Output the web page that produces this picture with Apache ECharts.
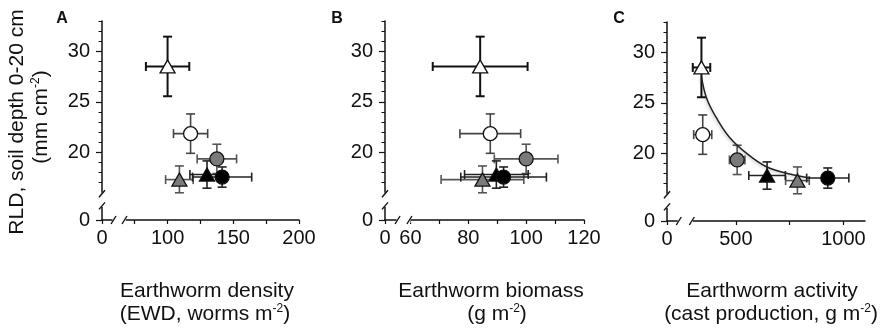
<!DOCTYPE html>
<html>
<head>
<meta charset="utf-8">
<script src="https://cdn.jsdelivr.net/npm/echarts@6/dist/echarts.min.js"></script>
<style>
  html, body { margin: 0; padding: 0; background: #fff; }
  #chart { width: 892px; height: 336px; }
</style>
</head>
<body>
<div id="chart"></div>
<script>
// treatments, same order in every panel:
// white triangle, white circle, grey circle, grey triangle, black triangle, black circle
var rld = [28.5, 21.85, 19.35, 17.3, 17.8, 17.55];      // RLD mm cm-2
var rldErr = [2.95, 1.95, 1.45, 1.35, 1.35, 1.0];

// A: earthworm density
var density = [100, 117.5, 137.5, 109, 130, 141.5];
var densityErr = [16.5, 13, 15, 10.5, 13, 22.5];
// B: earthworm biomass
var biomass = [84.1, 87.6, 100, 84.9, 89.7, 92.2];
var biomassErr = [16.4, 10.5, 11, 14.3, 11, 14.8];
// C: cast production
var cast = [340, 346, 506, 786, 645, 927];
var castErr = [41, 42, 36, 55, 85, 98];
// fitted curve in C
var curveX = [340, 365, 410, 470, 550, 640, 750, 845];
var curveY = [27.6, 25.4, 23.5, 21.6, 20.0, 18.7, 17.95, 17.55];

// ticks and labels
var yTicks = [0, 17, 18, 19, 21, 22, 23, 24, 26, 27, 28, 29, 31, 32, 33];
var yMajor = [0, 20, 25, 30];
var xTicksA = [0, 75, 100, 125, 150, 175, 200], xLabelsA = [0, 100, 150, 200];
var xTicksB = [0, 60, 70, 80, 90, 100, 110, 120], xLabelsB = [0, 60, 80, 100, 120];
var xTicksC = [0, 500, 750, 1000], xLabelsC = [0, 500, 1000];

// styles
var symbols = ['triangle', 'circle', 'circle', 'triangle', 'triangle', 'circle'];
var fills = ['#fff', '#fff', '#7a7a7a', '#7a7a7a', '#000', '#000'];
var errColors = ['#111', '#444', '#555', '#555', '#222', '#222'];

var FONT = "'Liberation Sans', Arial, Helvetica, sans-serif";
var INK = '#111';

var chart = echarts.init(document.getElementById('chart'));

// break gaps are in data units here
var panels = [
  { grid: { left: 102, top: 21, width: 197, height: 199 }, xmax: 200, xbrk: { start: 8, end: 68, gap: 9.9 },
    ticks: xTicksA, labels: xLabelsA, xs: density, xe: densityErr },
  { grid: { left: 385, top: 21, width: 199, height: 199 }, xmax: 120, xbrk: { start: 4, end: 60, gap: 4.8 },
    ticks: xTicksB, labels: xLabelsB, xs: biomass, xe: biomassErr },
  { grid: { left: 667, top: 22, width: 198, height: 199 }, xmax: 1100, xbrk: { start: 50, end: 300, gap: 70 },
    ticks: xTicksC, labels: xLabelsC, xs: cast, xe: castErr }
];
var yBrk = { start: 1.3, end: 16, gap: 1.4 };

var grids = [], xAxes = [], yAxes = [], series = [];
function plain(v) { return String(v); }

panels.forEach(function (p, k) {
  grids.push(p.grid);
  xAxes.push({
    gridIndex: k, type: 'value', min: 0, max: p.xmax,
    breaks: [p.xbrk], breakArea: { show: false },
    axisLine: { show: true, onZero: false, lineStyle: { color: INK, width: 1.5 } },
    axisTick: { show: true, length: 4, customValues: p.ticks, lineStyle: { color: INK, width: 1.2 } },
    axisLabel: { customValues: p.labels, formatter: plain, fontSize: 20, color: INK, fontFamily: FONT, margin: 8 },
    splitLine: { show: false }
  });
  // minor ticks + labels
  yAxes.push({
    gridIndex: k, type: 'value', min: 0, max: 33, position: 'left',
    breaks: [yBrk], breakArea: { show: false },
    axisLine: { show: true, onZero: false, lineStyle: { color: INK, width: 1.5 } },
    axisTick: { show: true, length: 3.5, customValues: yTicks, lineStyle: { color: INK, width: 1 } },
    axisLabel: { customValues: yMajor, formatter: plain, fontSize: 20, color: INK, fontFamily: FONT, margin: 12 },
    splitLine: { show: false }
  });
  // major ticks
  yAxes.push({
    gridIndex: k, type: 'value', min: 0, max: 33, position: 'left', offset: 0,
    breaks: [yBrk], breakArea: { show: false },
    axisLine: { show: false },
    axisTick: { show: true, length: 6, customValues: yMajor, lineStyle: { color: INK, width: 1.2 } },
    axisLabel: { show: false },
    splitLine: { show: false }
  });

  var errData = p.xs.map(function (x, i) { return [x, rld[i], p.xe[i], rldErr[i]]; });
  series.push({
    type: 'custom', xAxisIndex: k, yAxisIndex: 2 * k, z: 2,
    encode: { x: 0, y: 1 },
    data: errData,
    renderItem: function (params, api) {
      var x = api.value(0), y = api.value(1), dx = api.value(2), dy = api.value(3);
      var i = params.dataIndex;
      var l = api.coord([x - dx, y]), r = api.coord([x + dx, y]);
      var t = api.coord([x, y + dy]), b = api.coord([x, y - dy]);
      var c = 4.5;
      var st = { stroke: errColors[i], lineWidth: i === 0 ? 2 : 1.6 };
      function ln(x1, y1, x2, y2) {
        return { type: 'line', shape: { x1: x1, y1: y1, x2: x2, y2: y2 }, style: st };
      }
      return {
        type: 'group',
        children: [
          ln(l[0], l[1], r[0], r[1]), ln(l[0], l[1] - c, l[0], l[1] + c), ln(r[0], r[1] - c, r[0], r[1] + c),
          ln(t[0], t[1], b[0], b[1]), ln(t[0] - c, t[1], t[0] + c, t[1]), ln(b[0] - c, b[1], b[0] + c, b[1])
        ]
      };
    }
  });

  if (k === 2) {
    series.push({
      type: 'line', xAxisIndex: k, yAxisIndex: 2 * k, z: 3,
      data: curveX.map(function (x, i) { return [x, curveY[i]]; }),
      smooth: 0.4, showSymbol: false, silent: true,
      lineStyle: { color: '#222', width: 1.5, shadowColor: 'rgba(0,0,0,0.25)', shadowBlur: 3, shadowOffsetX: -1, shadowOffsetY: 1 }
    });
  }

  series.push({
    type: 'scatter', xAxisIndex: k, yAxisIndex: 2 * k, z: 4,
    data: p.xs.map(function (x, i) {
      return {
        value: [x, rld[i]],
        symbol: symbols[i],
        symbolSize: symbols[i] === 'triangle' ? [15, 13] : 14,
        itemStyle: { color: fills[i], borderColor: '#111', borderWidth: 1.3, opacity: 1 }
      };
    })
  });
});

chart.setOption({
  animation: false,
  grid: grids,
  xAxis: xAxes,
  yAxis: yAxes,
  series: series
});

// titles, panel letters and the "//" break marks
var rich = {
  n: { fontSize: 21, fontFamily: FONT, color: INK },
  s: { fontSize: 12, fontFamily: FONT, color: INK, verticalAlign: 'top', padding: [0, 0, 10, 0] }
};
function label(x, y, text, rot) {
  return {
    type: 'text', x: x, y: y, rotation: rot || 0, z: 50,
    style: { text: text, rich: rich, align: 'center', verticalAlign: 'middle', fontSize: 21, fontFamily: FONT, fill: INK }
  };
}
var g = [
  label(207, 291, '{n|Earthworm density}'),
  label(205, 314, '{n|(EWD, worms m}{s|-2}{n|)}'),
  label(491, 291, '{n|Earthworm biomass}'),
  label(497, 314, '{n|(g m}{s|-2}{n|)}'),
  label(772, 291, '{n|Earthworm activity}'),
  label(771, 314, '{n|(cast production, g m}{s|-2}{n|)}'),
  label(17, 122, '{n|RLD, soil depth 0-20 cm}', Math.PI / 2),
  label(41, 117, '{n|(mm cm}{s|-2}{n|)}', Math.PI / 2)
];
['A', 'B', 'C'].forEach(function (t, k) {
  g.push({
    type: 'text', x: [62, 337, 619][k], y: 19, z: 50,
    style: { text: t, fontSize: 16, fontWeight: 'bold', fontFamily: FONT, fill: INK, align: 'center', verticalAlign: 'middle' }
  });
});

panels.forEach(function (p, k) {
  var x0 = chart.convertToPixel({ xAxisIndex: k }, 0);
  var y0 = chart.convertToPixel({ yAxisIndex: 2 * k }, 0);
  var xs = chart.convertToPixel({ xAxisIndex: k }, p.xbrk.start);
  var xe = chart.convertToPixel({ xAxisIndex: k }, p.xbrk.end);
  var ys = chart.convertToPixel({ yAxisIndex: 2 * k }, yBrk.start);
  var ye = chart.convertToPixel({ yAxisIndex: 2 * k }, yBrk.end);
  var white = { fill: '#fff' };
  var stroke = { stroke: INK, lineWidth: 1.4 };
  g.push({ type: 'rect', z: 60, shape: { x: xs, y: y0 - 3, width: xe - xs, height: 6 }, style: white });
  g.push({ type: 'rect', z: 60, shape: { x: x0 - 3, y: ye, width: 6, height: ys - ye }, style: white });
  [xs + 1, xe - 1].forEach(function (cx) {
    g.push({ type: 'line', z: 61, shape: { x1: cx - 2.5, y1: y0 + 4, x2: cx + 2.5, y2: y0 - 4 }, style: stroke });
  });
  [ys - 1, ye + 1].forEach(function (cy) {
    g.push({ type: 'line', z: 61, shape: { x1: x0 - 3, y1: cy + 3.5, x2: x0 + 3, y2: cy - 3.5 }, style: stroke });
  });
});

chart.setOption({ graphic: g });
</script>
</body>
</html>
